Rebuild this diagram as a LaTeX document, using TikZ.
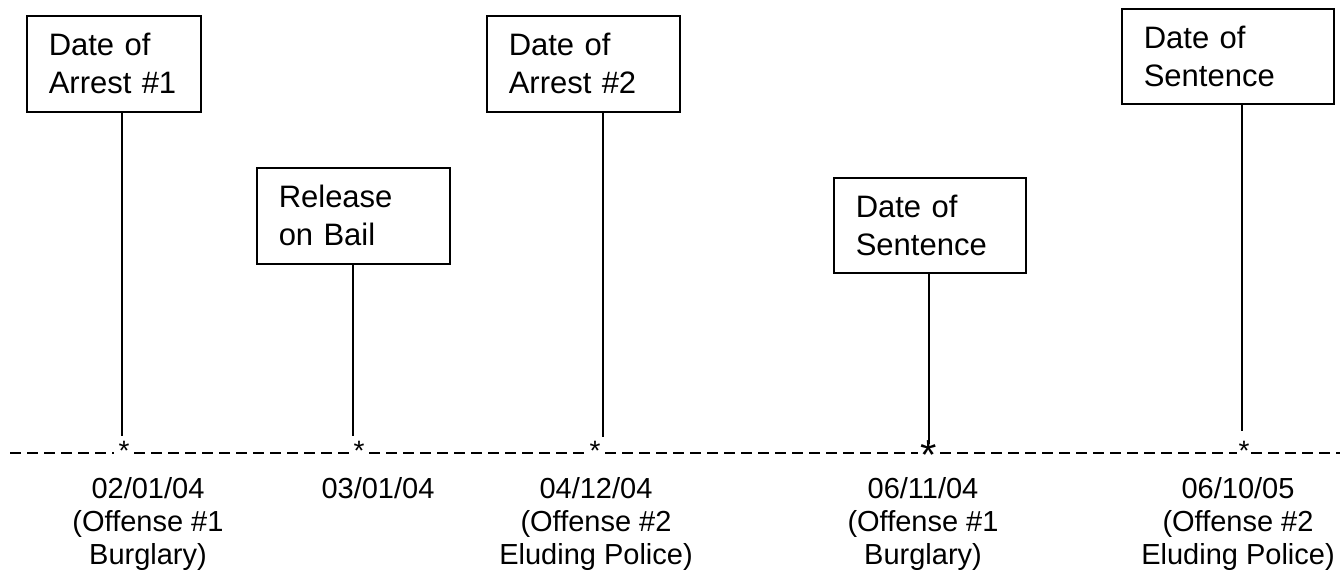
\documentclass[tikz,border=0pt]{standalone}
\usepackage{fontspec}
\setmainfont{Liberation Sans}
\begin{document}
\begin{tikzpicture}[x=1pt,y=-1pt,
  evbox/.style={draw,line width=1.5pt,anchor=north west,align=left,
    inner xsep=22pt,inner ysep=0pt,
    font=\fontsize{31}{38}\selectfont},
  tick/.style={line width=1.5pt},
  star/.style={inner sep=0pt,minimum width=20pt,minimum height=0pt,
    font=\fontsize{28}{28}\selectfont},
  dline/.style={line width=1.8pt,dash pattern=on 11pt off 6pt},
  datetxt/.style={anchor=north,align=center,inner sep=0pt,
    font=\fontsize{29}{33}\selectfont}]
\useasboundingbox (0,0) rectangle (1340,582);
% boxes
\node[evbox,text width=130pt,minimum height=96pt] (b1) at (26,15) {Date of\\Arrest \#1};
\node[evbox,text width=149pt,minimum height=96pt] (b2) at (256,167) {Release\\on Bail};
\node[evbox,text width=149pt,minimum height=96pt] (b3) at (486,15) {Date of\\Arrest \#2};
\node[evbox,text width=148pt,minimum height=95pt] (b4) at (833,177) {Date of\\Sentence};
\node[evbox,text width=168pt,minimum height=95pt] (b5) at (1121,8) {Date of\\Sentence};
% line ends
\coordinate (c1) at (122,436);
\coordinate (c2) at (353,436);
\coordinate (c3) at (603,437);
\coordinate (c4) at (929,444);
\coordinate (c5) at (1242,431);
\draw[tick] (b1.south -| c1) -- (c1);
\draw[tick] (b2.south -| c2) -- (c2);
\draw[tick] (b3.south -| c3) -- (c3);
\draw[tick] (b4.south -| c4) -- (c4);
\draw[tick] (b5.south -| c5) -- (c5);
% timeline
\node[star] (s1) at (124,453) {\smash{\raisebox{-7pt}{*}}};
\node[star] (s2) at (359,453) {\smash{\raisebox{-7pt}{*}}};
\node[star] (s3) at (595,453) {\smash{\raisebox{-7pt}{*}}};
\node[star,font=\fontsize{42}{42}\selectfont,minimum width=22pt] (s4) at (929,453) {\smash{\raisebox{-16pt}{*}}};
\node[star,minimum width=14pt] (s5) at (1244,453) {\smash{\raisebox{-7pt}{*}}};
\coordinate (L) at (10,453);
\coordinate (R) at (1340,453);
\draw[dline] (L) -- (s1) -- (s2) -- (s3) -- (s4) -- (s5) -- (R);
% dates
\node[datetxt] (d1) at (148,477) {02/01/04\\(Offense \#1\\Burglary)};
\node[datetxt] (d2) at (378,477) {03/01/04};
\node[datetxt] (d3) at (596,477) {04/12/04\\(Offense \#2\\Eluding Police)};
\node[datetxt] (d4) at (923,477) {06/11/04\\(Offense \#1\\Burglary)};
\node[datetxt] (d5) at (1238,477) {06/10/05\\(Offense \#2\\Eluding Police)};
\end{tikzpicture}
\end{document}
